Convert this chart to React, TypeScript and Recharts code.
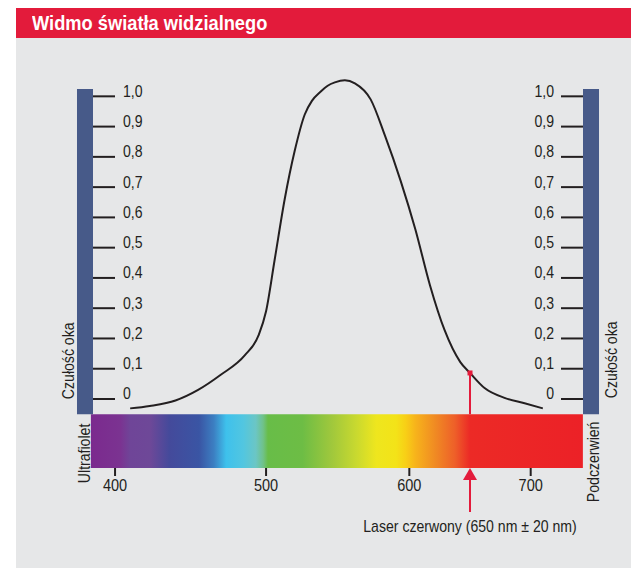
import {
  ComposedChart,
  Line,
  XAxis,
  YAxis,
  ReferenceArea,
  ReferenceLine,
  ReferenceDot,
} from "recharts";

// czułość oka (nm -> wartość względna)
const WAVELENGTHS = [410, 423, 440, 455, 470, 486, 495, 500, 506, 513, 520, 527, 532, 538, 543, 548, 555, 562, 573, 583, 594, 605, 617, 629, 642, 650, 662, 679, 695, 710];
const SENSITIVITY = [-0.031, -0.023, -0.005, 0.03, 0.08, 0.145, 0.21, 0.29, 0.46, 0.66, 0.82, 0.94, 0.985, 1.015, 1.035, 1.046, 1.053, 1.043, 0.99, 0.87, 0.72, 0.56, 0.376, 0.228, 0.122, 0.086, 0.036, 0.003, -0.014, -0.031];

const X_TICKS = [400, 500, 600, 700];
const Y_TICKS = [0, 0.1, 0.2, 0.3, 0.4, 0.5, 0.6, 0.7, 0.8, 0.9, 1.0];

const SPECTRUM_NM = [384, 743];
const LASER_NM = 650;
const LASER_LEVEL = 0.086;

// skala osi x na rysunku nie jest liniowa - punkty kontrolne
const KNOT_NM = [400, 500, 600, 700];
const KNOT_POS = [400, 509, 612.4, 700];

function warp(nm: number) {
  let i = 0;
  while (i < KNOT_NM.length - 2 && nm > KNOT_NM[i + 1]) i++;
  const k = (KNOT_POS[i + 1] - KNOT_POS[i]) / (KNOT_NM[i + 1] - KNOT_NM[i]);
  return KNOT_POS[i] + (nm - KNOT_NM[i]) * k;
}

const X_DOMAIN = [warp(385.4), warp(743.1)];
const Y_DOMAIN = [-0.228, 1.087];
const BAR_BOTTOM = -0.05;
const BAR_TOP = 1.024;

const FONT = "'Liberation Sans', Arial, sans-serif";
const NARROW = 0.88; // czcionka zwężona jak Helvetica Condensed
const INK = "#231f20";
const RED = "#e31b3b";
const BLUE = "#475a89";
const PANEL = "#e6e7e8";

const SPECTRUM_STOPS: [number, string][] = [
  [0, "#7b2a8e"],
  [0.06, "#7b3391"],
  [0.08, "#6f4598"],
  [0.12, "#6e4898"],
  [0.16, "#444a9b"],
  [0.22, "#3a55a4"],
  [0.25, "#3c7fc2"],
  [0.275, "#3ec1ec"],
  [0.31, "#52c6e0"],
  [0.335, "#6bc6c5"],
  [0.35, "#70c28a"],
  [0.36, "#68bd48"],
  [0.43, "#6dbd45"],
  [0.49, "#a0c83c"],
  [0.54, "#c9d92f"],
  [0.58, "#eee61e"],
  [0.62, "#f3e318"],
  [0.64, "#f8cf16"],
  [0.66, "#f7b31b"],
  [0.7, "#f08a23"],
  [0.74, "#ee5f29"],
  [0.77, "#ec2a26"],
  [1, "#ec2127"],
];

const data = WAVELENGTHS.map((nm, i) => ({ x: warp(nm), v: SENSITIVITY[i] }));

const fmt = (v: number) => (v === 0 ? "0" : v.toFixed(1).replace(".", ","));

// tekst zwężony w poziomie
const NText = ({ x, y, size, anchor = "start", rotate = 0, children }: any) => (
  <text
    transform={`translate(${x},${y}) rotate(${rotate}) scale(${NARROW},1)`}
    x={0}
    y={0}
    textAnchor={anchor}
    fontSize={size}
    fontFamily={FONT}
    fill={INK}
  >
    {children}
  </text>
);

const YTick = (p: any) => (
  <NText x={p.x} y={p.y + 0.5} size={16} anchor={p.textAnchor}>
    {fmt(p.payload.value)}
  </NText>
);

const XTick = (p: any) => (
  <NText x={p.x} y={p.y + 12} size={16.5} anchor="middle">
    {X_TICKS[p.index]}
  </NText>
);

const leftLabels = (p: any) => {
  const { x, y, height } = p.viewBox;
  return (
    <g>
      <NText x={x - 3} y={y + height - 15} size={16} rotate={-90}>Czułość oka</NText>
      <NText x={x + 13} y={y + height + 69} size={16} rotate={-90}>Ultrafiolet</NText>
    </g>
  );
};

const rightLabels = (p: any) => {
  const { x, y, height } = p.viewBox;
  return (
    <g>
      <NText x={x + 34} y={y + height - 16} size={16} rotate={-90}>Czułość oka</NText>
      <NText x={x + 16} y={y + height + 88} size={16} rotate={-90}>Podczerwień</NText>
    </g>
  );
};

const LaserArrow = (p: any) => {
  const { x1, y1 } = p;
  return (
    <g>
      <path d={`M${x1},${y1} L${x1 - 7},${y1 + 12} L${x1 + 7},${y1 + 12} Z`} fill={RED} />
      <line x1={x1} y1={y1 + 12} x2={x1} y2={y1 + 44} stroke={RED} strokeWidth={2} />
      <NText x={x1} y={y1 + 63.5} size={16} anchor="middle">
        Laser czerwony (650 nm ± 20 nm)
      </NText>
    </g>
  );
};

export default function App() {
  return (
    <div style={{ marginLeft: 8, width: 623, fontFamily: FONT }}>
      <div
        style={{
          height: 30,
          lineHeight: "30px",
          background: RED,
          color: "#fff",
          fontWeight: "bold",
          fontSize: 21,
          paddingLeft: 16,
          whiteSpace: "nowrap",
        }}
      >
        <span style={{ display: "inline-block", transform: "scaleX(0.87)", transformOrigin: "0 50%" }}>
          Widmo światła widzialnego
        </span>
      </div>
      <div style={{ background: PANEL, height: 530 }}>
        <ComposedChart width={623} height={530} data={data} margin={{ top: 32, right: 56, bottom: 70, left: 77 }}>
          <defs>
            <linearGradient id="spectrum" x1="0" y1="0" x2="1" y2="0">
              {SPECTRUM_STOPS.map(([o, c]) => (
                <stop key={o} offset={o} stopColor={c} />
              ))}
            </linearGradient>
          </defs>
          <XAxis
            dataKey="x"
            type="number"
            domain={X_DOMAIN}
            allowDataOverflow
            ticks={X_TICKS.map(warp)}
            interval={0}
            axisLine={false}
            tickLine={{ stroke: INK, strokeWidth: 2 }}
            tickSize={8}
            tickMargin={3}
            height={30}
            tick={XTick}
          />
          <YAxis
            yAxisId="left"
            orientation="left"
            mirror
            type="number"
            domain={Y_DOMAIN}
            allowDataOverflow
            ticks={Y_TICKS}
            interval={0}
            axisLine={false}
            tickLine={{ stroke: INK, strokeWidth: 2 }}
            tickSize={22}
            tickMargin={8}
            tick={YTick}
          />
          <YAxis
            yAxisId="right"
            orientation="right"
            mirror
            type="number"
            domain={Y_DOMAIN}
            allowDataOverflow
            ticks={Y_TICKS}
            interval={0}
            axisLine={false}
            tickLine={{ stroke: INK, strokeWidth: 2 }}
            tickSize={22}
            tickMargin={7}
            tick={YTick}
          />
          <ReferenceArea
            yAxisId="left"
            x1={warp(SPECTRUM_NM[0])}
            x2={warp(SPECTRUM_NM[1])}
            y1={Y_DOMAIN[0]}
            y2={BAR_BOTTOM}
            fill="url(#spectrum)"
            fillOpacity={1}
            stroke="none"
            ifOverflow="visible"
          />
          <ReferenceArea
            yAxisId="left"
            x1={warp(374.8)}
            x2={X_DOMAIN[0]}
            y1={BAR_BOTTOM}
            y2={BAR_TOP}
            fill={BLUE}
            fillOpacity={1}
            stroke="none"
            ifOverflow="visible"
            label={leftLabels}
          />
          <ReferenceArea
            yAxisId="left"
            x1={X_DOMAIN[1]}
            x2={warp(756.3)}
            y1={BAR_BOTTOM}
            y2={BAR_TOP}
            fill={BLUE}
            fillOpacity={1}
            stroke="none"
            ifOverflow="visible"
            label={rightLabels}
          />
          <Line
            yAxisId="left"
            dataKey="v"
            type="monotone"
            stroke={INK}
            strokeWidth={2}
            dot={false}
            activeDot={false}
            isAnimationActive={false}
          />
          <ReferenceLine
            yAxisId="left"
            segment={[
              { x: warp(LASER_NM), y: LASER_LEVEL },
              { x: warp(LASER_NM), y: BAR_BOTTOM },
            ]}
            stroke={RED}
            strokeWidth={2}
            ifOverflow="visible"
          />
          <ReferenceLine
            yAxisId="left"
            segment={[
              { x: warp(LASER_NM), y: Y_DOMAIN[0] },
              { x: warp(LASER_NM), y: -0.37 },
            ]}
            ifOverflow="visible"
            shape={LaserArrow}
          />
          <ReferenceDot
            yAxisId="left"
            x={warp(LASER_NM)}
            y={LASER_LEVEL}
            ifOverflow="visible"
            shape={(p: any) => <rect x={p.cx - 2.5} y={p.cy - 2.5} width={5} height={5} fill={RED} />}
          />
        </ComposedChart>
      </div>
    </div>
  );
}
